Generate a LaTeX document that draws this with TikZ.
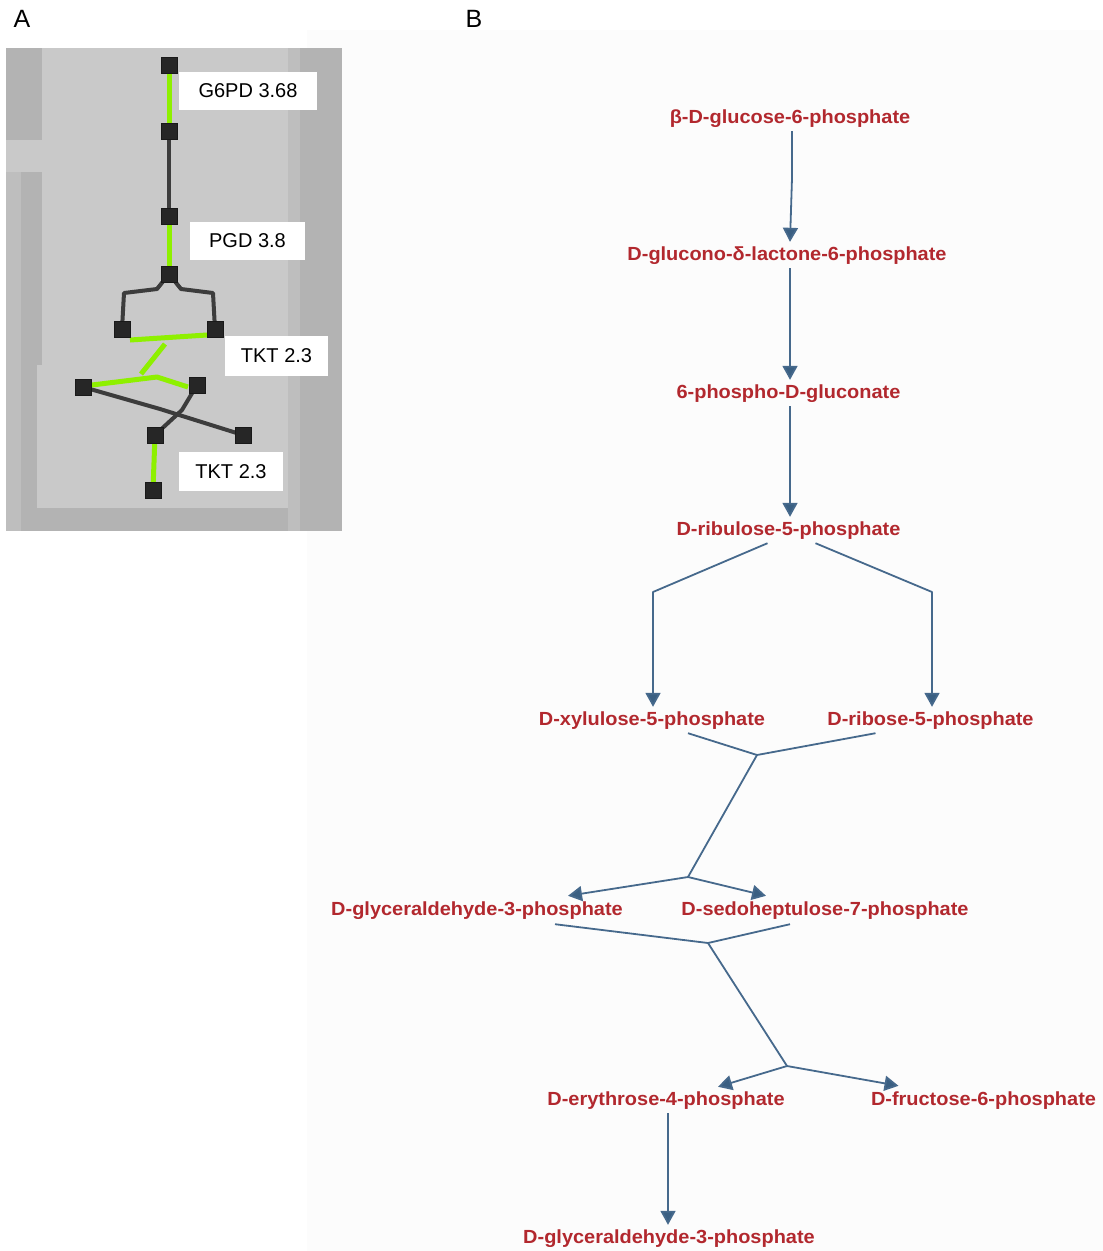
\documentclass[tikz,border=0pt]{standalone}
\usepackage{fontspec}
\setmainfont{Liberation Sans}
\newfontfamily\metfont[FakeStretch=1.05]{Liberation Sans}
\usetikzlibrary{arrows.meta,calc}
\definecolor{metred}{HTML}{B2282E}
\definecolor{edgeblue}{HTML}{46698C}
\definecolor{tipblue}{HTML}{3A5F82}
\definecolor{grayD}{HTML}{B3B3B3}
\definecolor{grayL}{HTML}{C9C9C9}
\definecolor{grayM}{HTML}{BEBEBE}
\definecolor{hlgreen}{HTML}{8EF000}
\definecolor{darkedge}{HTML}{3C3C3C}
\definecolor{sqfill}{HTML}{262626}
\definecolor{bgB}{HTML}{FCFCFC}
\begin{document}
\begin{tikzpicture}[x=1pt,y=-1pt,
  met/.style={font=\metfont\bfseries\fontsize{19}{22}\selectfont, text=metred, inner sep=1pt, text height=14pt, text depth=4pt},
  link/.style={draw=edgeblue, line width=1.8pt},
  arr/.style={link, -{Triangle[width=15pt,length=14pt,fill=tipblue]}},
  sq/.style={draw=black!90, fill=sqfill, minimum size=16pt, inner sep=0pt, line width=0.6pt},
  gline/.style={draw=hlgreen, line width=5pt},
  dline/.style={draw=darkedge, line width=4pt},
  lab/.style={fill=white, font=\fontsize{20}{24}\selectfont, inner sep=0pt},
  panel/.style={font=\fontsize{25}{30}\selectfont, inner sep=0pt}
]
\useasboundingbox (0,0) rectangle (1103,1251);
\fill[white] (0,0) rectangle (1103,1251);

% panel B background (under panel A)
\fill[bgB] (307,30) rectangle (1103,1251);

% panel labels
\node[panel] (pA) at (22,19) {A};
\node[panel] (pB) at (474,19) {B};

% ---------------- Panel A background ----------------
\fill[grayD] (6,48) rectangle (342,531);
\fill[grayL] (42,48) rectangle (288,368);
\fill[grayL] (37,365) rectangle (288,508);
\fill[grayM] (288,48) rectangle (300,531);
\fill[grayL] (6,140) rectangle (42,172);
\fill[grayM] (6,172) rectangle (21,531);

% node positions
\coordinate (p1) at (169,65);
\coordinate (p2) at (169,131);
\coordinate (p3) at (169,216);
\coordinate (p4) at (169,274);
\coordinate (p5) at (122,329);
\coordinate (p6) at (215,329);
\coordinate (p7) at (83,387);
\coordinate (p8) at (197,385);
\coordinate (p9) at (155,435);
\coordinate (p10) at (243,435);
\coordinate (p11) at (153,490);

% dark edges
\draw[dline] (p2) -- (p3);
\draw[dline, line join=round] (p4) -- (157,289) -- (124,293) -- (p5);
\draw[dline, line join=round] (p4) -- (181,289) -- (213,293) -- (p6);
\draw[dline] (p7) -- (160,409) -- (p10);
\draw[dline, line join=round] (p8) -- (182,410) -- (p9);

% green highlighted edges
\draw[gline] (p1) -- (p2);
\draw[gline] (p3) -- (p4);
\draw[gline] (130,340) -- (207,335);
\draw[gline] (165,344) -- (141,374);
\draw[gline, line join=round] (92,385) -- (157,377) -- (188,387);
\draw[gline] (p9) -- (p11);

% square nodes
\foreach \i in {1,...,11} { \node[sq] (n\i) at (p\i) {}; }

% labels
\node[lab, minimum width=138pt, minimum height=38pt] (l1) at (248,91) {G6PD 3.68};
\node[lab, minimum width=115pt, minimum height=38pt] (l2) at (247.5,241) {PGD 3.8};
\node[lab, minimum width=103pt, minimum height=40pt] (l3) at (276.5,356) {TKT 2.3};
\node[lab, minimum width=104pt, minimum height=39pt] (l4) at (231,471.5) {TKT 2.3};

% ---------------- Panel B ----------------
\node[met] (g6p)  at (790,118)  {β-D-glucose-6-phosphate};
\node[met] (lac)  at (787,255)  {D-glucono-δ-lactone-6-phosphate};
\node[met] (pg)   at (788.5,393) {6-phospho-D-gluconate};
\node[met] (ru5p) at (788.5,530) {D-ribulose-5-phosphate};
\node[met] (xu5p) at (652,720)  {D-xylulose-5-phosphate};
\node[met] (r5p)  at (930.5,720) {D-ribose-5-phosphate};
\node[met] (gap1) at (477,910)  {D-glyceraldehyde-3-phosphate};
\node[met] (s7p)  at (825,910)  {D-sedoheptulose-7-phosphate};
\node[met] (e4p)  at (666,1100) {D-erythrose-4-phosphate};
\node[met] (f6p)  at (983.5,1100) {D-fructose-6-phosphate};
\node[met] (gap2) at (669,1238) {D-glyceraldehyde-3-phosphate};

\coordinate (ax) at (790,0);
\coordinate (kx) at (653,592);
\coordinate (kr) at (932,592);
\coordinate (j1) at (757,755);
\coordinate (j2) at (688,877);
\coordinate (j3) at (708,943);
\coordinate (j4) at (787,1066);

\draw[arr] ($(g6p.south -| ax)+(2,3)$) -- ($(g6p.south -| ax)+(2,50)$) -- ($(lac.north -| ax)+(0,-3)$);
\draw[arr] ($(lac.south -| ax)+(0,3)$) -- ($(pg.north -| ax)+(0,-3)$);
\draw[arr] ($(pg.south -| ax)+(0,3)$) -- ($(ru5p.north -| ax)+(0,-3)$);

\draw[arr, line join=round] ($(ru5p.south)+(-21,3)$) -- (kx) -- ($(kx |- xu5p.north)+(0,-3)$);
\draw[arr, line join=round] ($(ru5p.south)+(27,3)$) -- (kr) -- ($(kr |- r5p.north)+(0,-3)$);

\draw[link] ($(xu5p.south)+(36,3)$) -- (j1);
\draw[link] ($(r5p.south)+(-55,3)$) -- (j1);
\draw[link] (j1) -- (j2);
\draw[arr] (j2) -- ($(gap1.north)+(91,-4)$);
\draw[arr] (j2) -- ($(s7p.north)+(-59,-4)$);

\draw[link] ($(gap1.south)+(78,4)$) -- (j3);
\draw[link] ($(s7p.south)+(-35,4)$) -- (j3);
\draw[link] (j3) -- (j4);
\draw[arr] (j4) -- ($(e4p.north)+(52,-3)$);
\draw[arr] (j4) -- ($(f6p.north)+(-85,-4)$);

\draw[arr] ($(e4p.south)+(2,3)$) -- ($(e4p.south |- gap2.north)+(2,-3)$);
\end{tikzpicture}
\end{document}
